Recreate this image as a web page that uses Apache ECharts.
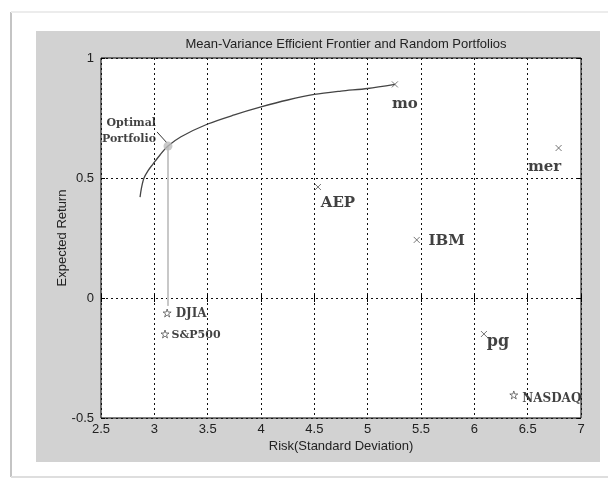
<!DOCTYPE html>
<html><head><meta charset="utf-8">
<script src="https://cdn.jsdelivr.net/npm/echarts@6/dist/echarts.min.js"></script>
<style>html,body{margin:0;padding:0;background:#fff}#c{width:608px;height:479px}</style>
</head><body><div id="c"></div>
<script>
var titleText = 'Mean-Variance Efficient Frontier and Random Portfolios';
var xName = 'Risk(Standard Deviation)';
var yName = 'Expected Return';
var frontierX = [2.866, 2.88, 2.903, 2.94, 2.987, 3.053, 3.128, 3.25, 3.5, 3.75, 4.0, 4.25, 4.5, 4.75, 5.0, 5.255];
var frontierY = [0.42, 0.46, 0.50, 0.53, 0.558, 0.596, 0.633, 0.672, 0.725, 0.763, 0.796, 0.825, 0.848, 0.862, 0.873, 0.89];
var stockNames = ['mo', 'AEP', 'IBM', 'mer', 'pg'];
var stockRisk = [5.255, 4.534, 5.46, 6.79, 6.09];
var stockReturn = [0.89, 0.4625, 0.242, 0.625, -0.15];
var indexNames = ['DJIA', 'S&P500', 'NASDAQ'];
var indexRisk = [3.12, 3.10, 6.37];
var indexReturn = [-0.0625, -0.15, -0.404];
var optimalPoint = [3.128, 0.633];
var optimalDropEnd = [3.128, -0.033];
var pointerStart = [3.025, 0.692];
var pointerEnd = [3.119, 0.646];
var optimalLabel = 'Optimal\nPortfolio';

var stockLabelStyle = {
  mo: {offset: [10, 20], size: 15},
  AEP: {offset: [20, 16], size: 15},
  IBM: {offset: [30, 1], size: 15},
  mer: {offset: [-14, 19], size: 15},
  pg: {offset: [14, 8], size: 16}
};
var indexLabelStyle = {
  DJIA: {offset: [24, 1], size: 12},
  'S&P500': {offset: [31, 1], size: 11},
  NASDAQ: {offset: [38, 4], size: 12}
};

var frontier = frontierX.map(function (x, i) { return [x, frontierY[i]]; });
var stocks = stockNames.map(function (n, i) {
  var s = stockLabelStyle[n];
  return {name: n, value: [stockRisk[i], stockReturn[i]],
    label: {show: true, formatter: n, position: 'inside', offset: s.offset, fontSize: s.size}};
});
var indices = indexNames.map(function (n, i) {
  var s = indexLabelStyle[n];
  return {name: n, value: [indexRisk[i], indexReturn[i]],
    label: {show: true, formatter: n, position: 'inside', offset: s.offset, fontSize: s.size}};
});

var serifLabel = {fontFamily: 'DejaVu Serif', fontWeight: 'bold', color: '#111'};
var axisFont = {fontFamily: 'Liberation Sans', fontSize: 13, color: '#222'};
var dotted = {show: true, lineStyle: {color: '#111', type: [2, 3], width: 1}};
var starPath = 'path://M5,0 L6.2,3.6 L10,3.6 L6.9,5.8 L8.1,9.5 L5,7.2 L1.9,9.5 L3.1,5.8 L0,3.6 L3.8,3.6 Z';
var crossPath = 'path://M0,0L10,10M10,0L0,10';

var chart = echarts.init(document.getElementById('c'), null, {renderer: 'canvas'});
chart.setOption({
  animation: false,
  backgroundColor: '#fff',
  graphic: [
    {type: 'rect', z: -10, shape: {x: 36, y: 31, width: 564, height: 431}, style: {fill: '#d2d2d2'}},
    {type: 'line', z: -10, shape: {x1: 11, y1: 12, x2: 11, y2: 477}, style: {stroke: '#c4c4c4', lineWidth: 2}},
    {type: 'line', z: -10, shape: {x1: 11, y1: 12, x2: 608, y2: 12}, style: {stroke: '#ececec', lineWidth: 2}},
    {type: 'line', z: -10, shape: {x1: 11, y1: 477, x2: 608, y2: 477}, style: {stroke: '#dedede', lineWidth: 2}}
  ],
  title: {
    text: titleText, left: 341, top: 33, textAlign: 'center',
    textStyle: {fontFamily: 'Liberation Sans', fontSize: 13, fontWeight: 'normal', color: '#222'}
  },
  grid: {left: 101, top: 58, width: 480, height: 360, show: true, backgroundColor: '#fff', borderColor: '#000', borderWidth: 1},
  xAxis: [
    {type: 'value', min: 2.5, max: 7, interval: 0.5, name: xName, nameLocation: 'middle', nameGap: 22,
      nameMoveOverlap: false,
      nameTextStyle: axisFont, axisLabel: Object.assign({margin: 5}, axisFont),
      axisLine: {show: false}, axisTick: {show: true, inside: true, length: 4, lineStyle: {color: '#000'}},
      splitLine: dotted},
    {type: 'value', position: 'top', min: 2.5, max: 7, interval: 0.5, axisLabel: {show: false},
      axisLine: {show: false}, axisTick: {show: true, inside: true, length: 4, lineStyle: {color: '#000'}},
      splitLine: {show: false}}
  ],
  yAxis: [
    {type: 'value', min: -0.5, max: 1, interval: 0.5, name: yName, nameLocation: 'middle', nameGap: 32,
      nameMoveOverlap: false,
      nameTextStyle: axisFont, axisLabel: Object.assign({margin: 7}, axisFont),
      axisLine: {show: false}, axisTick: {show: true, inside: true, length: 4, lineStyle: {color: '#000'}},
      splitLine: dotted},
    {type: 'value', position: 'right', min: -0.5, max: 1, interval: 0.5, axisLabel: {show: false},
      axisLine: {show: false}, axisTick: {show: true, inside: true, length: 4, lineStyle: {color: '#000'}},
      splitLine: {show: false}}
  ],
  series: [
    {type: 'line', data: [optimalPoint, optimalDropEnd], symbol: 'none', silent: true,
      lineStyle: {color: '#c8c8c8', width: 2}, z: 2},
    {type: 'line', data: frontier, smooth: 0.3, symbol: 'none', lineStyle: {color: '#444', width: 1.3}, z: 3},
    {type: 'line', data: [pointerStart, pointerEnd], symbol: 'none', lineStyle: {color: '#333', width: 1}, z: 3},
    {type: 'scatter', data: [{value: pointerStart, label: {show: true, formatter: optimalLabel, position: 'left', distance: 1, offset: [0, -1],
        fontSize: 11, lineHeight: 16}}], symbolSize: 0, label: serifLabel, z: 4},
    {type: 'scatter', data: [optimalPoint], symbol: 'circle', symbolSize: 9, itemStyle: {color: '#bdbdbd'}, z: 4},
    {type: 'scatter', data: stocks, symbol: crossPath, symbolSize: 6,
      itemStyle: {color: 'none', borderColor: '#555', borderWidth: 1}, label: serifLabel, z: 5},
    {type: 'scatter', data: indices, symbol: starPath, symbolSize: 8,
      itemStyle: {color: 'none', borderColor: '#444', borderWidth: 0.9}, label: serifLabel, z: 5}
  ]
});
</script>
</body></html>
